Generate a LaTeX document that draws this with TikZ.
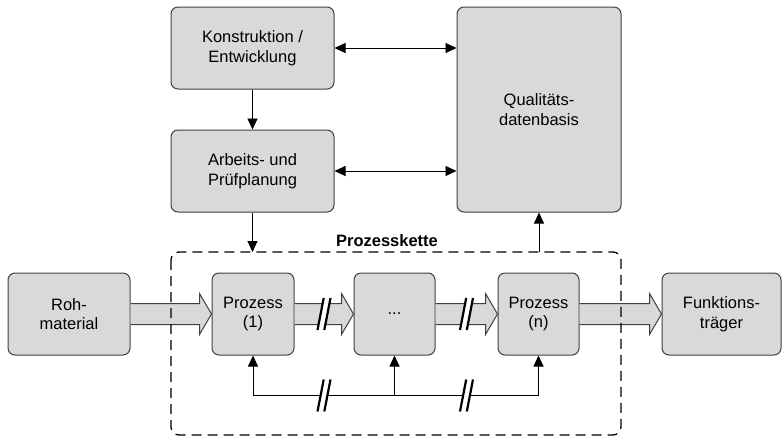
\documentclass[tikz,border=0pt]{standalone}
\usepackage{fontspec}
\setmainfont{Liberation Sans}
\usetikzlibrary{arrows.meta,calc}
\definecolor{boxfill}{HTML}{D9D9D9}
\definecolor{boxline}{HTML}{404040}

% wide flow arrow between two boxes of the process row
\newcommand{\bandarrow}[2]{%
  \path[flow] let \p1=(#1.east), \p2=(#2.west) in
    (\x1,\y1+10.5pt) -- (\x2-12pt,\y1+10.5pt) -- (\x2-12pt,\y1+20.5pt)
    -- (\x2,\y1) -- (\x2-12pt,\y1-20.5pt) -- (\x2-12pt,\y1-10.5pt)
    -- (\x1,\y1-10.5pt);}

% double slash interrupting a line
\newcommand{\interrupt}[1]{%
  \fill[white] ($(#1)+(-6.5,16)$) -- ($(#1)+(-0.3,-16)$) -- ($(#1)+(6.5,-16)$) -- ($(#1)+(0.3,16)$) -- cycle;
  \draw[breakmark] ($(#1)+(-6.5,16)$) -- ($(#1)+(-0.3,-16)$);
  \draw[breakmark] ($(#1)+(0.3,16)$) -- ($(#1)+(6.5,-16)$);}

\begin{document}
\begin{tikzpicture}[x=1pt,y=-1pt,
  >={Triangle[length=11pt,width=10pt]},
  box/.style={draw=boxline, fill=boxfill, line width=1pt, rounded corners=7pt,
    align=center, inner sep=0pt, font=\fontsize{16.5}{19.5}\selectfont},
  link/.style={draw=black, line width=0.9pt},
  flow/.style={draw=boxline, fill=boxfill, line width=1pt, line join=miter},
  chainframe/.style={draw=black, line width=1.3pt, dash pattern=on 10pt off 6pt, rounded corners=8pt},
  breakmark/.style={draw=black, line width=2.2pt}
]
\useasboundingbox[fill=white] (0,0) rectangle (782,437);

% planning and data boxes
\node[box, minimum width=163pt, minimum height=82pt] (kon) at (252.5,48) {Konstruktion /\\Entwicklung};
\node[box, minimum width=163pt, minimum height=82pt] (arb) at (252.5,171) {Arbeits- und\\Prüfplanung};
\node[box, minimum width=164pt, minimum height=205pt] (qdb) at (539,109.5) {Qualitäts-\\datenbasis};

% process chain frame (outline drawn last)
\node[minimum width=450pt, minimum height=183pt, inner sep=0pt, outer sep=0pt] (chain) at (396,343.5) {};
\node[font=\fontsize{16.5}{19.5}\selectfont\bfseries] (chainlabel) at (387,241) {Prozesskette};

% process row
\node[box, minimum width=122pt, minimum height=82pt] (roh) at (69,314) {Roh-\\material};
\node[box, minimum width=82pt, minimum height=82pt] (p1) at (253,314) {Prozess\\(1)};
\node[box, minimum width=81pt, minimum height=82pt] (dots) at (394.5,314) {...};
\node[box, minimum width=81pt, minimum height=82pt] (pn) at (538.5,314) {Prozess\\(n)};
\node[box, minimum width=119pt, minimum height=82pt] (fkt) at (721.5,314) {Funktions-\\träger};

% information links
\draw[link,<->] (kon.east) -- (kon.east -| qdb.west);
\draw[link,<->] (arb.east) -- (arb.east -| qdb.west);
\draw[link,->] (kon.south) -- (arb.north);
\draw[link,->] (arb.south) -- (arb.south |- chain.north);
\draw[link,->] (qdb.south |- chain.north) -- (qdb.south);

% material flow
\bandarrow{roh}{p1}
\bandarrow{p1}{dots}
\bandarrow{dots}{pn}
\bandarrow{pn}{fkt}
\coordinate (brk1) at ($(p1.east)!0.5!(dots.west)$);
\coordinate (brk2) at ($(dots.east)!0.5!(pn.west)$);
\interrupt{brk1}
\interrupt{brk2}

% feedback below the process row
\coordinate (fb) at ($(dots.south)+(0,40)$);
\draw[link] (p1.south |- fb) -- (pn.south |- fb);
\draw[link,->] (p1.south |- fb) -- (p1.south);
\draw[link,->] (fb) -- (dots.south);
\draw[link,->] (pn.south |- fb) -- (pn.south);
\interrupt{brk1 |- fb}
\interrupt{brk2 |- fb}

\draw[chainframe] (chain.north west) rectangle (chain.south east);
\end{tikzpicture}
\end{document}
